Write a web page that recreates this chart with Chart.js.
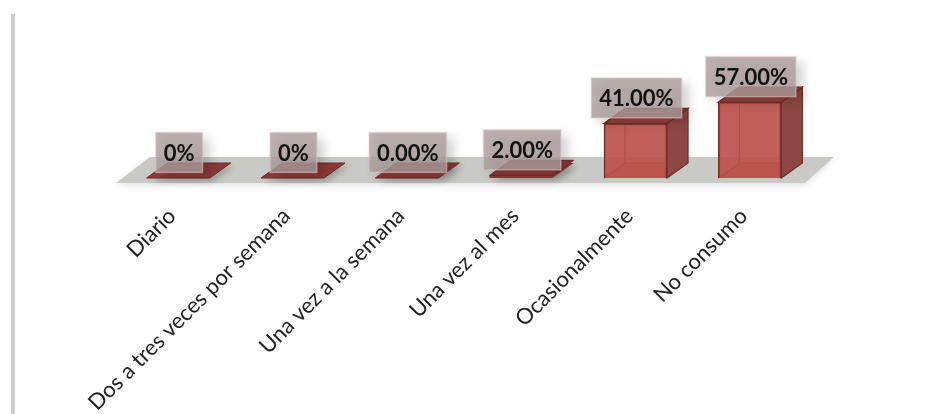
<!DOCTYPE html>
<html><head><meta charset="utf-8">
<script src="https://cdn.jsdelivr.net/npm/chart.js@4"></script>
<style>
html,body{margin:0;padding:0;background:#fff;width:929px;height:414px;overflow:hidden}
#rule{position:absolute;left:11px;top:14px;width:4px;height:400px;background:#cfcfcf}
#w{position:absolute;left:0;top:0;width:929px;height:414px;filter:blur(0.5px)}
</style></head><body>
<div id="rule"></div>
<div id="w"><canvas id="c" width="929" height="414"></canvas></div>
<script>
const categories = ["Diario","Dos a tres veces por semana","Una vez a la semana","Una vez al mes","Ocasionalmente","No consumo"];
const values = [0,0,0,2,41,57];
const valueLabels = ["0%","0%","0.00%","2.00%","41.00%","57.00%"];

const DX = 21, DY = -15;
function poly(ctx, pts, fill, stroke, lw){
  ctx.beginPath();
  pts.forEach((p,i)=> i ? ctx.lineTo(p[0],p[1]) : ctx.moveTo(p[0],p[1]));
  ctx.closePath();
  if(fill){ctx.fillStyle=fill;ctx.fill();}
  if(stroke){ctx.strokeStyle=stroke;ctx.lineWidth=lw||1.5;ctx.stroke();}
}
function geom(el){
  const w = el.width/2;
  return {l:el.x-w, r:el.x+w, t:el.y, b:el.base};
}
const threeD = {
  id:'threeD',
  beforeDatasetsDraw(chart){
    const ctx = chart.ctx, a = chart.chartArea;
    ctx.save();
    ctx.save();
    ctx.shadowColor='rgba(0,0,0,0.10)';ctx.shadowBlur=6;ctx.shadowOffsetY=3;
    poly(ctx,[[a.left-5,a.bottom+5],[a.right-2,a.bottom+5],[a.right+27,a.bottom-21],[a.left+29,a.bottom-21]],'#c9c9c6');
    ctx.restore();
    chart.getDatasetMeta(0).data.forEach(el=>{
      const g = geom(el);
      if(g.b-g.t < 5) return;
      poly(ctx,[[g.l,g.b],[g.r,g.b],[g.r+DX,g.b+DY],[g.l+DX,g.b+DY]],'rgba(160,60,55,0.75)');
      poly(ctx,[[g.l,g.t],[g.l+DX,g.t+DY],[g.l+DX,g.b+DY],[g.l,g.b]],'rgba(160,60,55,0.5)');
      poly(ctx,[[g.l+DX,g.t+DY],[g.r+DX,g.t+DY],[g.r+DX,g.b+DY],[g.l+DX,g.b+DY]],'rgba(160,60,55,0.5)');
      ctx.strokeStyle='rgba(140,40,35,0.9)';ctx.lineWidth=1.2;
      ctx.beginPath();
      ctx.moveTo(g.l,g.b);ctx.lineTo(g.l+DX,g.b+DY);ctx.lineTo(g.r+DX,g.b+DY);
      ctx.moveTo(g.l+DX,g.b+DY);ctx.lineTo(g.l+DX,g.t+DY);
      ctx.stroke();
    });
    ctx.restore();
  },
  afterDatasetsDraw(chart){
    const ctx = chart.ctx;
    ctx.save();
    chart.getDatasetMeta(0).data.forEach(el=>{
      const g = geom(el);
      const edge='#74302c';
      if(g.b-g.t > 5){
        poly(ctx,[[g.r,g.t],[g.r+DX,g.t+DY],[g.r+DX,g.b+DY],[g.r,g.b]],'#8f4743',edge,1.3);
        poly(ctx,[[g.l,g.t],[g.r,g.t],[g.r+DX,g.t+DY],[g.l+DX,g.t+DY]],'#95403b',edge,1.3);
      } else {
        ctx.save();
        ctx.shadowColor='rgba(0,0,0,0.22)';ctx.shadowBlur=6;ctx.shadowOffsetX=4;ctx.shadowOffsetY=3;
        poly(ctx,[[g.l,g.b],[g.r,g.b],[g.r+DX,g.b+DY],[g.l+DX,g.b+DY]],'#8a3a36');
        ctx.restore();
        poly(ctx,[[g.l,g.t],[g.r,g.t],[g.r+DX,g.t+DY],[g.l+DX,g.t+DY]],'#8a3a36','#6f2a27',1);
      }
    });
    ctx.font='bold 22px Lato, sans-serif';
    ctx.textAlign='center';ctx.textBaseline='middle';
    chart.getDatasetMeta(0).data.forEach((el,i)=>{
      const g = geom(el), txt = valueLabels[i];
      const w = ctx.measureText(txt).width + 16, h = 40;
      const cx = el.x+1, cy = g.t-25.5;
      ctx.save();
      ctx.shadowColor='rgba(0,0,0,0.22)';ctx.shadowBlur=10;ctx.shadowOffsetX=7;ctx.shadowOffsetY=5;
      ctx.fillStyle='rgba(170,155,155,0.8)';
      ctx.fillRect(cx-w/2,cy-h/2,w,h);
      ctx.restore();
      ctx.strokeStyle='rgba(225,200,197,0.5)';ctx.lineWidth=1.5;
      ctx.strokeRect(cx-w/2,cy-h/2,w,h);
      ctx.fillStyle='#111';
      ctx.fillText(txt,cx,cy+1);
    });
    ctx.restore();
  }
};
new Chart(document.getElementById('c'),{
  type:'bar',
  data:{labels:categories,datasets:[{data:values,backgroundColor:'rgba(190,82,76,0.82)',borderColor:'#74302c',borderWidth:1.5,barThickness:63}]},
  plugins:[threeD],
  options:{
    responsive:false,animation:false,
    layout:{padding:{left:121,right:122,top:45,bottom:0}},
    plugins:{legend:{display:false},tooltip:{enabled:false}},
    scales:{
      y:{display:false,min:0,max:100},
      x:{
        grid:{display:false},border:{display:false},
        afterFit(s){s.height=236;s.paddingLeft=0;s.paddingRight=0;},
        ticks:{minRotation:45,maxRotation:45,autoSkip:false,padding:17,labelOffset:-6,color:'#222',font:{family:'Lato, sans-serif',size:22}}
      }
    }
  }
});
</script>
</body></html>
